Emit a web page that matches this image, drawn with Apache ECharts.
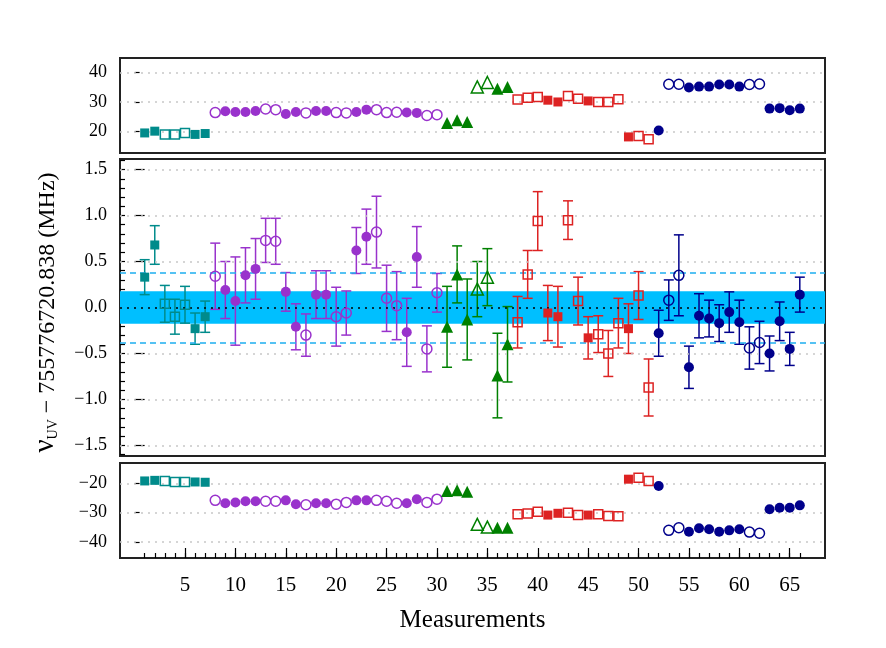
<!DOCTYPE html>
<html lang="en">
<head>
<meta charset="UTF-8">
<title>UV measurements</title>
<script src="https://cdn.jsdelivr.net/npm/echarts@6/dist/echarts.min.js"></script>
<style>
  html, body { margin: 0; padding: 0; background: #fff; }
  #main { width: 886px; height: 648px; }
</style>
</head>
<body>
<div id="main"></div>
<script>
// measurement groups (index ranges, 1-based)
const groupFirst = [1, 8, 31, 38, 52];
const groupLast = [7, 30, 37, 51, 66];
const groupColors = ['#008B8B', '#9932CC', '#008000', '#DD2222', '#00008B'];
const groupSymbols = ['rect', 'circle', 'triangle', 'rect', 'circle'];

// 1 = filled marker, 0 = open marker
const filled = [
  1, 1, 0, 0, 0, 1, 1,
  0, 1, 1, 1, 1, 0, 0, 1, 1, 0, 1, 1, 0, 0, 1, 1, 0, 0, 0, 1, 1, 0, 0,
  1, 1, 1, 0, 0, 1, 1,
  0, 0, 0, 1, 1, 0, 0, 1, 0, 0, 0, 1, 0, 0,
  1, 0, 0, 1, 1, 1, 1, 1, 1, 0, 0, 1, 1, 1, 1
];

// middle panel: offset (MHz) and its uncertainty
const midValues = [
  0.33, 0.68, 0.04, -0.10, 0.03, -0.23, -0.10,
  0.34, 0.19, 0.07, 0.35, 0.42, 0.73, 0.72, 0.17, -0.21, -0.30, 0.14, 0.14, -0.10, -0.06, 0.62, 0.77, 0.82, 0.10, 0.02, -0.27, 0.55, -0.45, 0.16,
  -0.21, 0.36, -0.13, 0.20, 0.33, -0.74, -0.40,
  -0.16, 0.36, 0.94, -0.06, -0.10, 0.95, 0.07, -0.33, -0.29, -0.50, -0.17, -0.23, 0.13, -0.87,
  -0.28, 0.08, 0.35, -0.65, -0.09, -0.12, -0.17, -0.05, -0.16, -0.44, -0.38, -0.50, -0.15, -0.45, 0.14
];
const midErrors = [
  0.19, 0.21, 0.20, 0.19, 0.20, 0.17, 0.17,
  0.36, 0.31, 0.48, 0.30, 0.33, 0.24, 0.25, 0.21, 0.25, 0.23, 0.26, 0.26, 0.32, 0.24, 0.25, 0.30, 0.39, 0.36, 0.37, 0.37, 0.33, 0.25, 0.21,
  0.44, 0.31, 0.44, 0.30, 0.31, 0.46, 0.41,
  0.28, 0.26, 0.32, 0.30, 0.33, 0.21, 0.26, 0.23, 0.20, 0.25, 0.27, 0.27, 0.26, 0.31,
  0.25, 0.22, 0.44, 0.23, 0.24, 0.20, 0.20, 0.22, 0.24, 0.23, 0.23, 0.19, 0.21, 0.18, 0.19
];

// top panel values
const topValues = [
  19.5, 20.1, 19.0, 19.0, 19.5, 19.0, 19.3,
  26.4, 26.85, 26.6, 26.6, 26.95, 27.6, 27.4, 25.9, 26.6, 26.3, 26.95, 26.95, 26.4, 26.3, 26.6, 27.4, 27.4, 26.4, 26.5, 26.4, 26.3, 25.4, 25.7,
  22.9, 23.8, 23.2, 35.1, 36.6, 34.5, 35.1,
  30.8, 31.4, 31.7, 30.6, 30.0, 32.0, 31.1, 30.35, 30.0, 30.0, 30.9, 18.15, 18.5, 17.4,
  20.3, 36.0, 36.0, 34.9, 35.2, 35.2, 35.9, 35.9, 35.2, 35.9, 36.1, 27.75, 27.9, 27.2, 27.75
];

// bottom panel values
const bottomValues = [
  -19.2, -19.0, -19.2, -19.55, -19.55, -19.55, -19.65,
  -25.8, -26.8, -26.5, -26.1, -26.1, -26.1, -26.1, -25.8, -27.1, -27.3, -26.8, -26.8, -27.1, -26.5, -25.8, -25.8, -25.8, -26.1, -26.8, -26.8, -25.4, -26.5, -25.4,
  -22.6, -22.4, -22.9, -33.95, -34.9, -35.1, -35.1,
  -30.55, -30.3, -29.65, -30.8, -30.2, -30.0, -30.8, -30.8, -30.55, -31.1, -31.2, -18.6, -18.1, -19.2,
  -20.9, -36.0, -35.1, -36.5, -35.3, -35.65, -36.5, -36.0, -35.65, -36.6, -37.0, -28.85, -28.3, -28.3, -27.5
];

// tick labels
const xTickLabels = [5, 10, 15, 20, 25, 30, 35, 40, 45, 50, 55, 60, 65];
const topTicks = [20, 30, 40];
const midTicks = [-1.5, -1.0, -0.5, 0.0, 0.5, 1.0, 1.5];
const bottomTicks = [-40, -30, -20];
const band = 0.177;
const dashLevel = 0.38;

const FONT = 'Liberation Serif';
const xMin = -1.45, xMax = 68.5;

const minorX = [];
for (let i = 1; i <= 66; i++) minorX.push(i);
const minorMid = [];
for (let i = -16; i <= 16; i++) minorMid.push(i / 10);

function fmtMid(v) { return v.toFixed(1).replace('-', '\u2212'); }
function fmtInt(v) { return String(v).replace('-', '\u2212'); }

const grids = [
  { left: 120, right: 61, top: 58, height: 95 },
  { left: 120, right: 61, top: 159, height: 297 },
  { left: 120, right: 61, top: 463, height: 95 }
].map(g => Object.assign(g, { show: true, borderColor: '#222', borderWidth: 2, backgroundColor: 'transparent' }));

const hiddenX = gi => ({
  type: 'value', gridIndex: gi, min: xMin, max: xMax,
  axisLine: { show: false }, axisTick: { show: false }, axisLabel: { show: false }, splitLine: { show: false }
});

const xAxes = [
  hiddenX(0),
  hiddenX(1),
  {
    type: 'value', gridIndex: 2, min: xMin, max: xMax, position: 'bottom',
    axisLine: { show: false }, splitLine: { show: false },
    axisTick: { show: true, inside: true, length: 10, customValues: xTickLabels, lineStyle: { color: '#000', width: 1.2 } },
    axisLabel: { show: true, customValues: xTickLabels, color: '#000', fontFamily: FONT, fontSize: 21, margin: 17 },
    name: 'Measurements', nameLocation: 'middle', nameGap: 50,
    nameTextStyle: { color: '#000', fontFamily: FONT, fontSize: 25 }
  },
  {
    type: 'value', gridIndex: 2, min: xMin, max: xMax, position: 'bottom',
    axisLine: { show: false }, splitLine: { show: false }, axisLabel: { show: false },
    axisTick: { show: true, inside: true, length: 5, customValues: minorX, lineStyle: { color: '#000', width: 1.2 } }
  }
];

const yBase = (gi, min, max, ticks, len, formatter) => ({
  type: 'value', gridIndex: gi, min: min, max: max, position: 'left',
  axisLine: { show: false }, splitLine: { show: false },
  axisTick: { show: true, inside: true, length: len, customValues: ticks, lineStyle: { color: '#000', width: 1.2 } },
  axisLabel: { show: !!formatter, customValues: ticks, color: '#000', fontFamily: FONT, fontSize: 18, margin: 13, formatter: formatter }
});

const yAxes = [
  yBase(0, 12.7, 44.9, topTicks, 5, fmtInt),
  Object.assign(yBase(1, -1.615, 1.615, midTicks, 10, fmtMid), {
    name: '{nu|\u03BD}{sub|UV}{txt| \u2212 755776720.838 (MHz)}',
    nameLocation: 'middle', nameGap: 60, nameRotate: 90,
    nameTextStyle: {
      color: '#000', fontFamily: FONT, padding: [0, 10, 0, 0],
      rich: {
        nu: { fontFamily: FONT, fontSize: 29, color: '#000', verticalAlign: 'bottom', lineHeight: 32 },
        sub: { fontFamily: FONT, fontSize: 14, color: '#000', verticalAlign: 'bottom', lineHeight: 27 },
        txt: { fontFamily: FONT, fontSize: 24, color: '#000', verticalAlign: 'bottom', lineHeight: 32 }
      }
    }
  }),
  yBase(1, -1.615, 1.615, minorMid, 5, null),
  yBase(2, -45.4, -13.1, bottomTicks, 5, fmtInt)
];

const gridLine = (v, color, type) => ({ yAxis: v, lineStyle: { color: color, type: type, width: 1.5 } });
const GRAY = '#c8c8c8';

const series = [];

// background guide lines / band
function bgSeries(xi, yi, z, extra) {
  return Object.assign({
    type: 'line', xAxisIndex: xi, yAxisIndex: yi, z: z, silent: true,
    data: [[xMin, (yAxes[yi].min + yAxes[yi].max) / 2]], symbol: 'none', lineStyle: { opacity: 0 }
  }, extra);
}
series.push(bgSeries(0, 0, 1, {
  markLine: { silent: true, symbol: ['none', 'none'], label: { show: false }, data: topTicks.map(v => gridLine(v, GRAY, [2, 5])) }
}));
series.push(bgSeries(2, 3, 1, {
  markLine: { silent: true, symbol: ['none', 'none'], label: { show: false }, data: bottomTicks.map(v => gridLine(v, GRAY, [2, 5])) }
}));
series.push(bgSeries(1, 1, 1, {
  markLine: { silent: true, symbol: ['none', 'none'], label: { show: false }, data: midTicks.filter(v => v !== 0).map(v => gridLine(v, GRAY, [2, 5])) }
}));
series.push(bgSeries(1, 1, 2, {
  markArea: { silent: true, itemStyle: { color: '#00BFFF', opacity: 1 }, data: [[{ yAxis: -band }, { yAxis: band }]] }
}));
series.push(bgSeries(1, 1, 3, {
  markLine: {
    silent: true, symbol: ['none', 'none'], label: { show: false },
    data: [
      gridLine(0, '#000', [2, 5]),
      gridLine(dashLevel, '#1EAEF0', [6, 4]),
      gridLine(-dashLevel, '#1EAEF0', [6, 4])
    ]
  }
}));

groupFirst.forEach((first, g) => {
  const last = groupLast[g];
  const color = groupColors[g];
  const symbol = groupSymbols[g];
  const size = symbol === 'triangle' ? 12 : (symbol === 'rect' ? 9 : 10);

  // error bars
  const errData = [];
  for (let i = first; i <= last; i++) {
    errData.push([i, midValues[i - 1] - midErrors[i - 1], midValues[i - 1] + midErrors[i - 1]]);
  }
  series.push({
    type: 'custom', xAxisIndex: 1, yAxisIndex: 1, z: 4, silent: true,
    encode: { x: 0, y: [1, 2] },
    data: errData,
    renderItem: function (params, api) {
      const x = api.value(0);
      const lo = api.coord([x, api.value(1)]);
      const hi = api.coord([x, api.value(2)]);
      const w = 5;
      const style = { stroke: color, lineWidth: 1.5, fill: null };
      return {
        type: 'group',
        children: [
          { type: 'line', shape: { x1: lo[0], y1: lo[1], x2: hi[0], y2: hi[1] }, style: style },
          { type: 'line', shape: { x1: lo[0] - w, y1: lo[1], x2: lo[0] + w, y2: lo[1] }, style: style },
          { type: 'line', shape: { x1: hi[0] - w, y1: hi[1], x2: hi[0] + w, y2: hi[1] }, style: style }
        ]
      };
    }
  });

  [1, 0].forEach(f => {
    const topData = [], midData = [], botData = [];
    for (let i = first; i <= last; i++) {
      if (filled[i - 1] !== f) continue;
      topData.push([i, topValues[i - 1]]);
      midData.push([i, midValues[i - 1]]);
      botData.push([i, bottomValues[i - 1]]);
    }
    const itemStyle = f
      ? { color: color, opacity: 1 }
      : { color: 'rgba(0,0,0,0)', borderColor: color, borderWidth: 1.5, opacity: 1 };
    [[0, 0, topData], [1, 1, midData], [2, 3, botData]].forEach(([xi, yi, d]) => {
      series.push({
        type: 'scatter', xAxisIndex: xi, yAxisIndex: yi, z: 5, silent: true,
        symbol: symbol, symbolSize: size, itemStyle: itemStyle, data: d
      });
    });
  });
});

const chart = echarts.init(document.getElementById('main'));
chart.setOption({
  animation: false,
  backgroundColor: '#fff',
  grid: grids,
  xAxis: xAxes,
  yAxis: yAxes,
  series: series
});
</script>
</body>
</html>
